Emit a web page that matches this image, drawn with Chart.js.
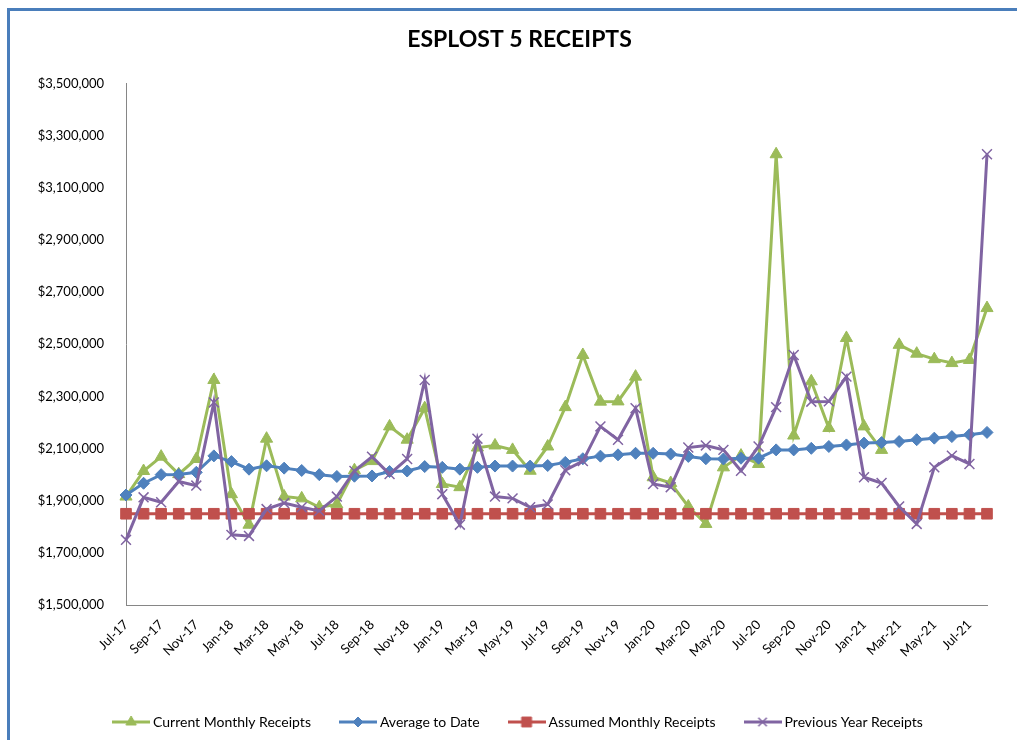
<!DOCTYPE html>
<html>
<head>
<meta charset="utf-8">
<title>ESPLOST 5 Receipts</title>
<script src="https://cdn.jsdelivr.net/npm/chart.js@4.4.0/dist/chart.umd.min.js"></script>
<style>
body{margin:0;background:#fff;}
</style>
</head>
<body>
<canvas id="myChart" width="1017" height="740"></canvas>
<script>
//months on the category axis
var months = ["Jul-17","Aug-17","Sep-17","Oct-17","Nov-17","Dec-17","Jan-18","Feb-18","Mar-18","Apr-18","May-18","Jun-18",
	"Jul-18","Aug-18","Sep-18","Oct-18","Nov-18","Dec-18","Jan-19","Feb-19","Mar-19","Apr-19","May-19","Jun-19",
	"Jul-19","Aug-19","Sep-19","Oct-19","Nov-19","Dec-19","Jan-20","Feb-20","Mar-20","Apr-20","May-20","Jun-20",
	"Jul-20","Aug-20","Sep-20","Oct-20","Nov-20","Dec-20","Jan-21","Feb-21","Mar-21","Apr-21","May-21","Jun-21",
	"Jul-21","Aug-21"];

//series values
var currentReceipts = [1916000, 2014000, 2069000, 2002000, 2060000, 2363000, 1925000, 1808000, 2138000, 1916000,
	1909000, 1875000, 1886000, 2017000, 2052000, 2185000, 2134000, 2255000, 1964000, 1952000,
	2104000, 2112000, 2095000, 2015000, 2108000, 2259000, 2459000, 2280000, 2281000, 2376000,
	1990000, 1968000, 1878000, 1811000, 2028000, 2073000, 2041000, 3229000, 2150000, 2358000,
	2179000, 2524000, 2185000, 2095000, 2498000, 2464000, 2443000, 2428000, 2440000, 2639000];

var averageToDate = [1922000, 1967000, 2000000, 2001000, 2009000, 2072000, 2050000, 2021000, 2034000, 2025000,
	2016000, 2000000, 1993000, 1994000, 1995000, 2012000, 2014000, 2031000, 2028000, 2021000,
	2028000, 2033000, 2033000, 2033000, 2035000, 2047000, 2061000, 2071000, 2076000, 2082000,
	2082000, 2079000, 2070000, 2061000, 2060000, 2063000, 2063000, 2095000, 2095000, 2101000,
	2108000, 2114000, 2121000, 2123000, 2127000, 2134000, 2140000, 2146000, 2153000, 2162000];

var assumedReceipts = [1850000, 1850000, 1850000, 1850000, 1850000, 1850000, 1850000, 1850000, 1850000, 1850000,
	1850000, 1850000, 1850000, 1850000, 1850000, 1850000, 1850000, 1850000, 1850000, 1850000,
	1850000, 1850000, 1850000, 1850000, 1850000, 1850000, 1850000, 1850000, 1850000, 1850000,
	1850000, 1850000, 1850000, 1850000, 1850000, 1850000, 1850000, 1850000, 1850000, 1850000,
	1850000, 1850000, 1850000, 1850000, 1850000, 1850000, 1850000, 1850000, 1850000, 1850000];

var previousYear = [1750000, 1913000, 1894000, 1974000, 1958000, 2277000, 1769000, 1765000, 1868000, 1891000,
	1875000, 1861000, 1916000, 2014000, 2069000, 2002000, 2060000, 2363000, 1925000, 1808000,
	2138000, 1916000, 1909000, 1875000, 1886000, 2017000, 2052000, 2185000, 2134000, 2255000,
	1964000, 1952000, 2104000, 2112000, 2095000, 2015000, 2108000, 2259000, 2459000, 2280000,
	2281000, 2376000, 1990000, 1968000, 1878000, 1811000, 2028000, 2073000, 2041000, 3229000];

//y axis range
var yMin = 1500000;
var yMax = 3500000;
var yStep = 200000;

var green = '#9BBB59';
var blue = '#4F81BD';
var red = '#C0504D';
var purple = '#8064A2';

//small line + marker picture for the legend
function legendIcon(color, style, radius, markerWidth){
	var c = document.createElement('canvas');
	c.width = 38;
	c.height = 16;
	var ctx = c.getContext('2d');
	ctx.strokeStyle = color;
	ctx.lineWidth = 3;
	ctx.beginPath();
	ctx.moveTo(0, 8);
	ctx.lineTo(38, 8);
	ctx.stroke();
	ctx.fillStyle = color;
	ctx.lineWidth = markerWidth;
	Chart.helpers.drawPoint(ctx, {pointStyle: style, radius: radius, rotation: 0, borderWidth: markerWidth}, 19, 8);
	return c;
}

//white background and the blue frame
var frame = {
	id: 'frame',
	beforeDraw: function(chart){
		var ctx = chart.ctx;
		ctx.save();
		ctx.fillStyle = '#fff';
		ctx.fillRect(0, 0, chart.width, chart.height);
		ctx.strokeStyle = '#4A7EBB';
		ctx.lineWidth = 3;
		ctx.strokeRect(8.5, 9.5, 1200, 1000);
		ctx.restore();
	}
};

//title and legend sit a little right of the layout box, like the original
var shiftBoxes = {
	id: 'shiftBoxes',
	afterLayout: function(chart){
		var dx = 11;
		[chart.titleBlock, chart.legend].forEach(function(box){
			if(box){
				box.left += dx;
				box.right += dx;
			}
		});
	}
};

var ctx = document.getElementById('myChart');

var myChart = new Chart(ctx, {
	type: 'line',
	data: {
		labels: months,
		datasets: [
			{
				label: 'Current Monthly Receipts',
				data: currentReceipts,
				borderColor: green,
				backgroundColor: green,
				borderWidth: 3,
				pointStyle: 'triangle',
				pointRadius: 7,
				pointBorderWidth: 1,
				order: 4
			},
			{
				label: 'Average to Date',
				data: averageToDate,
				borderColor: blue,
				backgroundColor: blue,
				borderWidth: 3,
				pointStyle: 'rectRot',
				pointRadius: 6,
				pointBorderWidth: 1,
				order: 3
			},
			{
				label: 'Assumed Monthly Receipts',
				data: assumedReceipts,
				borderColor: red,
				backgroundColor: red,
				borderWidth: 3,
				pointStyle: 'rect',
				pointRadius: 7.5,
				pointBorderWidth: 1,
				order: 2
			},
			{
				label: 'Previous Year Receipts',
				data: previousYear,
				borderColor: purple,
				backgroundColor: purple,
				borderWidth: 3,
				pointStyle: 'crossRot',
				pointRadius: 7,
				pointBorderWidth: 1.5,
				order: 1
			}
		]
	},
	options: {
		responsive: false,
		animation: false,
		devicePixelRatio: 1,
		layout: {
			padding: {left: 30, right: 30, top: 0, bottom: 1}
		},
		elements: {
			line: {tension: 0}
		},
		plugins: {
			title: {
				display: true,
				text: 'ESPLOST 5 RECEIPTS',
				color: '#000',
				font: {family: 'Lato', size: 23, weight: 'bold', lineHeight: 1.2},
				padding: {top: 26, bottom: 30}
			},
			legend: {
				position: 'bottom',
				labels: {
					color: '#000',
					font: {family: 'Lato', size: 14},
					usePointStyle: true,
					pointStyleWidth: 30,
					padding: 32,
					sort: function(a, b){ return a.datasetIndex - b.datasetIndex; },
					generateLabels: function(chart){
						var icons = [
							legendIcon(green, 'triangle', 6, 1),
							legendIcon(blue, 'rectRot', 5, 1),
							legendIcon(red, 'rect', 7, 1),
							legendIcon(purple, 'crossRot', 6, 1.5)
						];
						return chart.data.datasets.map(function(ds, i){
							return {
								text: ds.label,
								fontColor: '#000',
								pointStyle: icons[i],
								lineWidth: 0,
								strokeStyle: 'transparent',
								fillStyle: 'transparent',
								datasetIndex: i,
								hidden: false
							};
						});
					}
				}
			},
			tooltip: {enabled: false}
		},
		scales: {
			x: {
				grid: {display: false},
				border: {color: '#868686', width: 1},
				afterFit: function(scale){ scale.height = 78; },
				ticks: {
					autoSkip: false,
					minRotation: 45,
					maxRotation: 45,
					padding: 4,
					color: '#000',
					font: {family: 'Lato', size: 13},
					callback: function(value, index){
						return index % 2 === 0 ? this.getLabelForValue(value) : null;
					}
				}
			},
			y: {
				min: yMin,
				max: yMax,
				grid: {display: false},
				border: {color: '#868686', width: 1},
				afterFit: function(scale){ scale.width = 96; },
				ticks: {
					stepSize: yStep,
					padding: 14,
					color: '#000',
					font: {family: 'Lato', size: 13},
					callback: function(value){
						return '$' + value.toLocaleString('en-US');
					}
				}
			}
		}
	},
	plugins: [frame, shiftBoxes]
});
</script>
</body>
</html>
